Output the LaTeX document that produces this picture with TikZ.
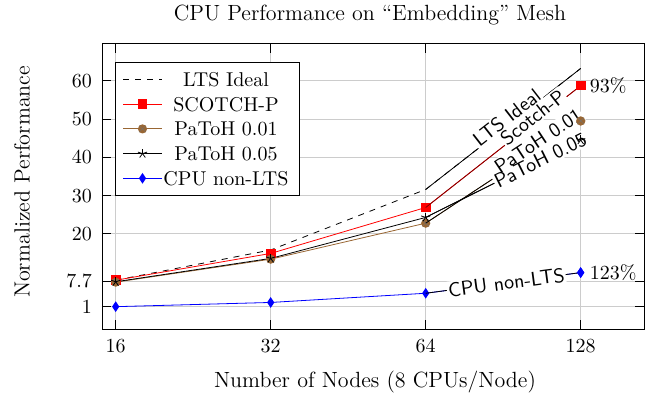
\documentclass[tikz,border=0pt]{standalone}
\usepackage{tikz}
\usetikzlibrary{positioning}
\definecolor{patohbrown}{RGB}{153,102,51}
\tikzset{
	gridline/.style={black!20}, % light grey grid lines
	curvebox/.style={sloped, fill=white, inner sep=0.6pt, font=\sffamily}, % white patch under a curve name
	curvelabel/.style={sloped, inner sep=0.6pt, font=\sffamily, text=black}, % the curve name itself
	biglabel/.style={font=\fontsize{11}{13}\selectfont}, % title and axis labels
	ideal/.style={black, dashed},
	scotch/.style={red},
	patoha/.style={patohbrown},
	patohb/.style={black},
	cpu/.style={blue},
	sqmark/.pic={\fill[red] (-2.4pt,-2.4pt) rectangle (2.4pt,2.4pt);},
	omark/.pic={\fill[patohbrown] (0pt,0pt) circle (2.3pt);
		\draw[black!55, very thin] (-1.6pt,-1.6pt) -- (1.6pt,1.6pt) (-1.6pt,1.6pt) -- (1.6pt,-1.6pt);},
	starmark/.pic={\foreach \a in {90,162,234,306,378} \draw[black] (0pt,0pt) -- (\a:2.4pt);},
	dmark/.pic={\fill[blue] (0pt,2.7pt) -- (1.8pt,0pt) -- (0pt,-2.7pt) -- (-1.8pt,0pt) -- cycle;},
}
\begin{document}
\begin{tikzpicture}[x=0.5pt, y=-0.5pt]
	\useasboundingbox (0,0) rectangle (655,395);
	% plot area, x in steps of doubling, y in normalized performance
	\begin{scope}[shift={(115.7,310.5)}, x=77.5pt, y=1.915pt]
		\coordinate (sw) at (-0.0884,-4.83);
		\coordinate (ne) at (3.408,69.7);
		\foreach \v in {1,7.7,20,30,40,50,60}
			\draw[gridline] (sw |- 0,\v) -- (ne |- 0,\v);
		\foreach \k in {0,...,3}
			\draw[gridline] (\k,0 |- sw) -- (\k,0 |- ne);

		\foreach \v [count=\i from 0] in {7.9,15.8,31.6,63.2} \coordinate (id\i) at (\i,\v);
		\foreach \v [count=\i from 0] in {7.9,14.9,26.9,58.7} \coordinate (sp\i) at (\i,\v);
		\foreach \v [count=\i from 0] in {7.4,13.4,22.8,49.5} \coordinate (pa\i) at (\i,\v);
		\foreach \v [count=\i from 0] in {7.5,13.6,24.3,44.5} \coordinate (pb\i) at (\i,\v);
		\foreach \v [count=\i from 0] in {1,2.1,4.5,9.9} \coordinate (cp\i) at (\i,\v);

		\draw[ideal] (id0) -- (id1) -- (id2) -- (id3);
		\draw[scotch] (sp0) -- (sp1) -- (sp2) -- (sp3);
		\draw[patoha] (pa0) -- (pa1) -- (pa2) -- (pa3);
		\draw[patohb] (pb0) -- (pb1) -- (pb2) -- (pb3);
		\draw[cpu] (cp0) -- (cp1) -- (cp2) -- (cp3);

		\foreach \i in {0,...,3} {
			\pic at (sp\i) {sqmark};
			\pic at (pa\i) {omark};
			\pic at (pb\i) {starmark};
			\pic at (cp\i) {dmark};
		}

		% last segments are drawn again in black with the curve names on them
		\draw[black] (id2) -- (id3);
		\draw[red!50!black] (sp2) -- (sp3);
		\draw[black] (pa2) -- (pa3);
		\draw[black] (pb2) -- (pb3);
		\draw[black] (cp2) -- (cp3);
		\foreach \ls/\wr in {curvebox/\phantom, curvelabel/\relax} {
			\path (id2) -- node[\ls, anchor=base, pos=0.55] (lbid-\ls) {\wr{LTS Ideal}} (id3);
			\path (sp2) -- node[\ls, anchor=base, pos=0.71] (lbsp-\ls) {\wr{\raisebox{-1pt}{Scotch-P}}} (sp3);
			\path (pa2) -- node[\ls, anchor=base, pos=0.75] (lbpa-\ls) {\wr{PaToH 0.01}} (pa3);
			\path (pb2) -- node[\ls, anchor=center, pos=0.74] (lbpb-\ls) {\wr{PaToH 0.05}} (pb3);
			\path (cp2) -- node[\ls, anchor=center, pos=0.52] (lbcp-\ls) {\wr{CPU non-LTS}} (cp3);
		}
		\pic at (sp3) {sqmark};
		\pic at (pa3) {omark};
		\pic at (pb3) {starmark};
		\pic at (cp3) {dmark};

		\node[right=1pt] (spct) at (sp3) {93\%};
		\node[right=1pt] (cpct) at (cp3) {123\%};

		\draw (sw) rectangle (ne);
		\foreach \v in {1,7.7,20,30,40,50,60} {
			\draw (sw |- 0,\v) -- ++(4.5pt,0pt);
			\draw (ne |- 0,\v) -- ++(-4.5pt,0pt);
			\node[left=1.5pt] at (sw |- 0,\v) {\v};
		}
		\foreach \n [count=\k from 0] in {16,32,64,128} {
			\draw (\k,0 |- sw) -- ++(0pt,4.5pt);
			\draw (\k,0 |- ne) -- ++(0pt,-4.5pt);
			\node[below=1.5pt] at (\k,0 |- sw) {\n};
		}
	\end{scope}

	% legend
	\draw[fill=white] (115.7,62.7) rectangle (299.3,195);
	\foreach \s/\m/\t [count=\i from 0] in {ideal//LTS Ideal, scotch/sqmark/SCOTCH-P,
			patoha/omark/PaToH 0.01, patohb/starmark/PaToH 0.05, cpu/dmark/CPU non-LTS} {
		\draw[\s] (123,79.5+24.7*\i) -- (162,79.5+24.7*\i);
		\ifx\m\empty\else \pic at (142.5,79.5+24.7*\i) {\m}; \fi
		\node (lg\i) at (226,79.5+24.7*\i) {\t};
	}

	\node[biglabel] (title) at (370,15) {CPU Performance on ``Embedding'' Mesh};
	\node[biglabel] (xlab) at (375,382) {Number of Nodes (8 CPUs/Node)};
	\node[biglabel, rotate=90] (ylab) at (22,182) {Normalized Performance};
\end{tikzpicture}
\end{document}
